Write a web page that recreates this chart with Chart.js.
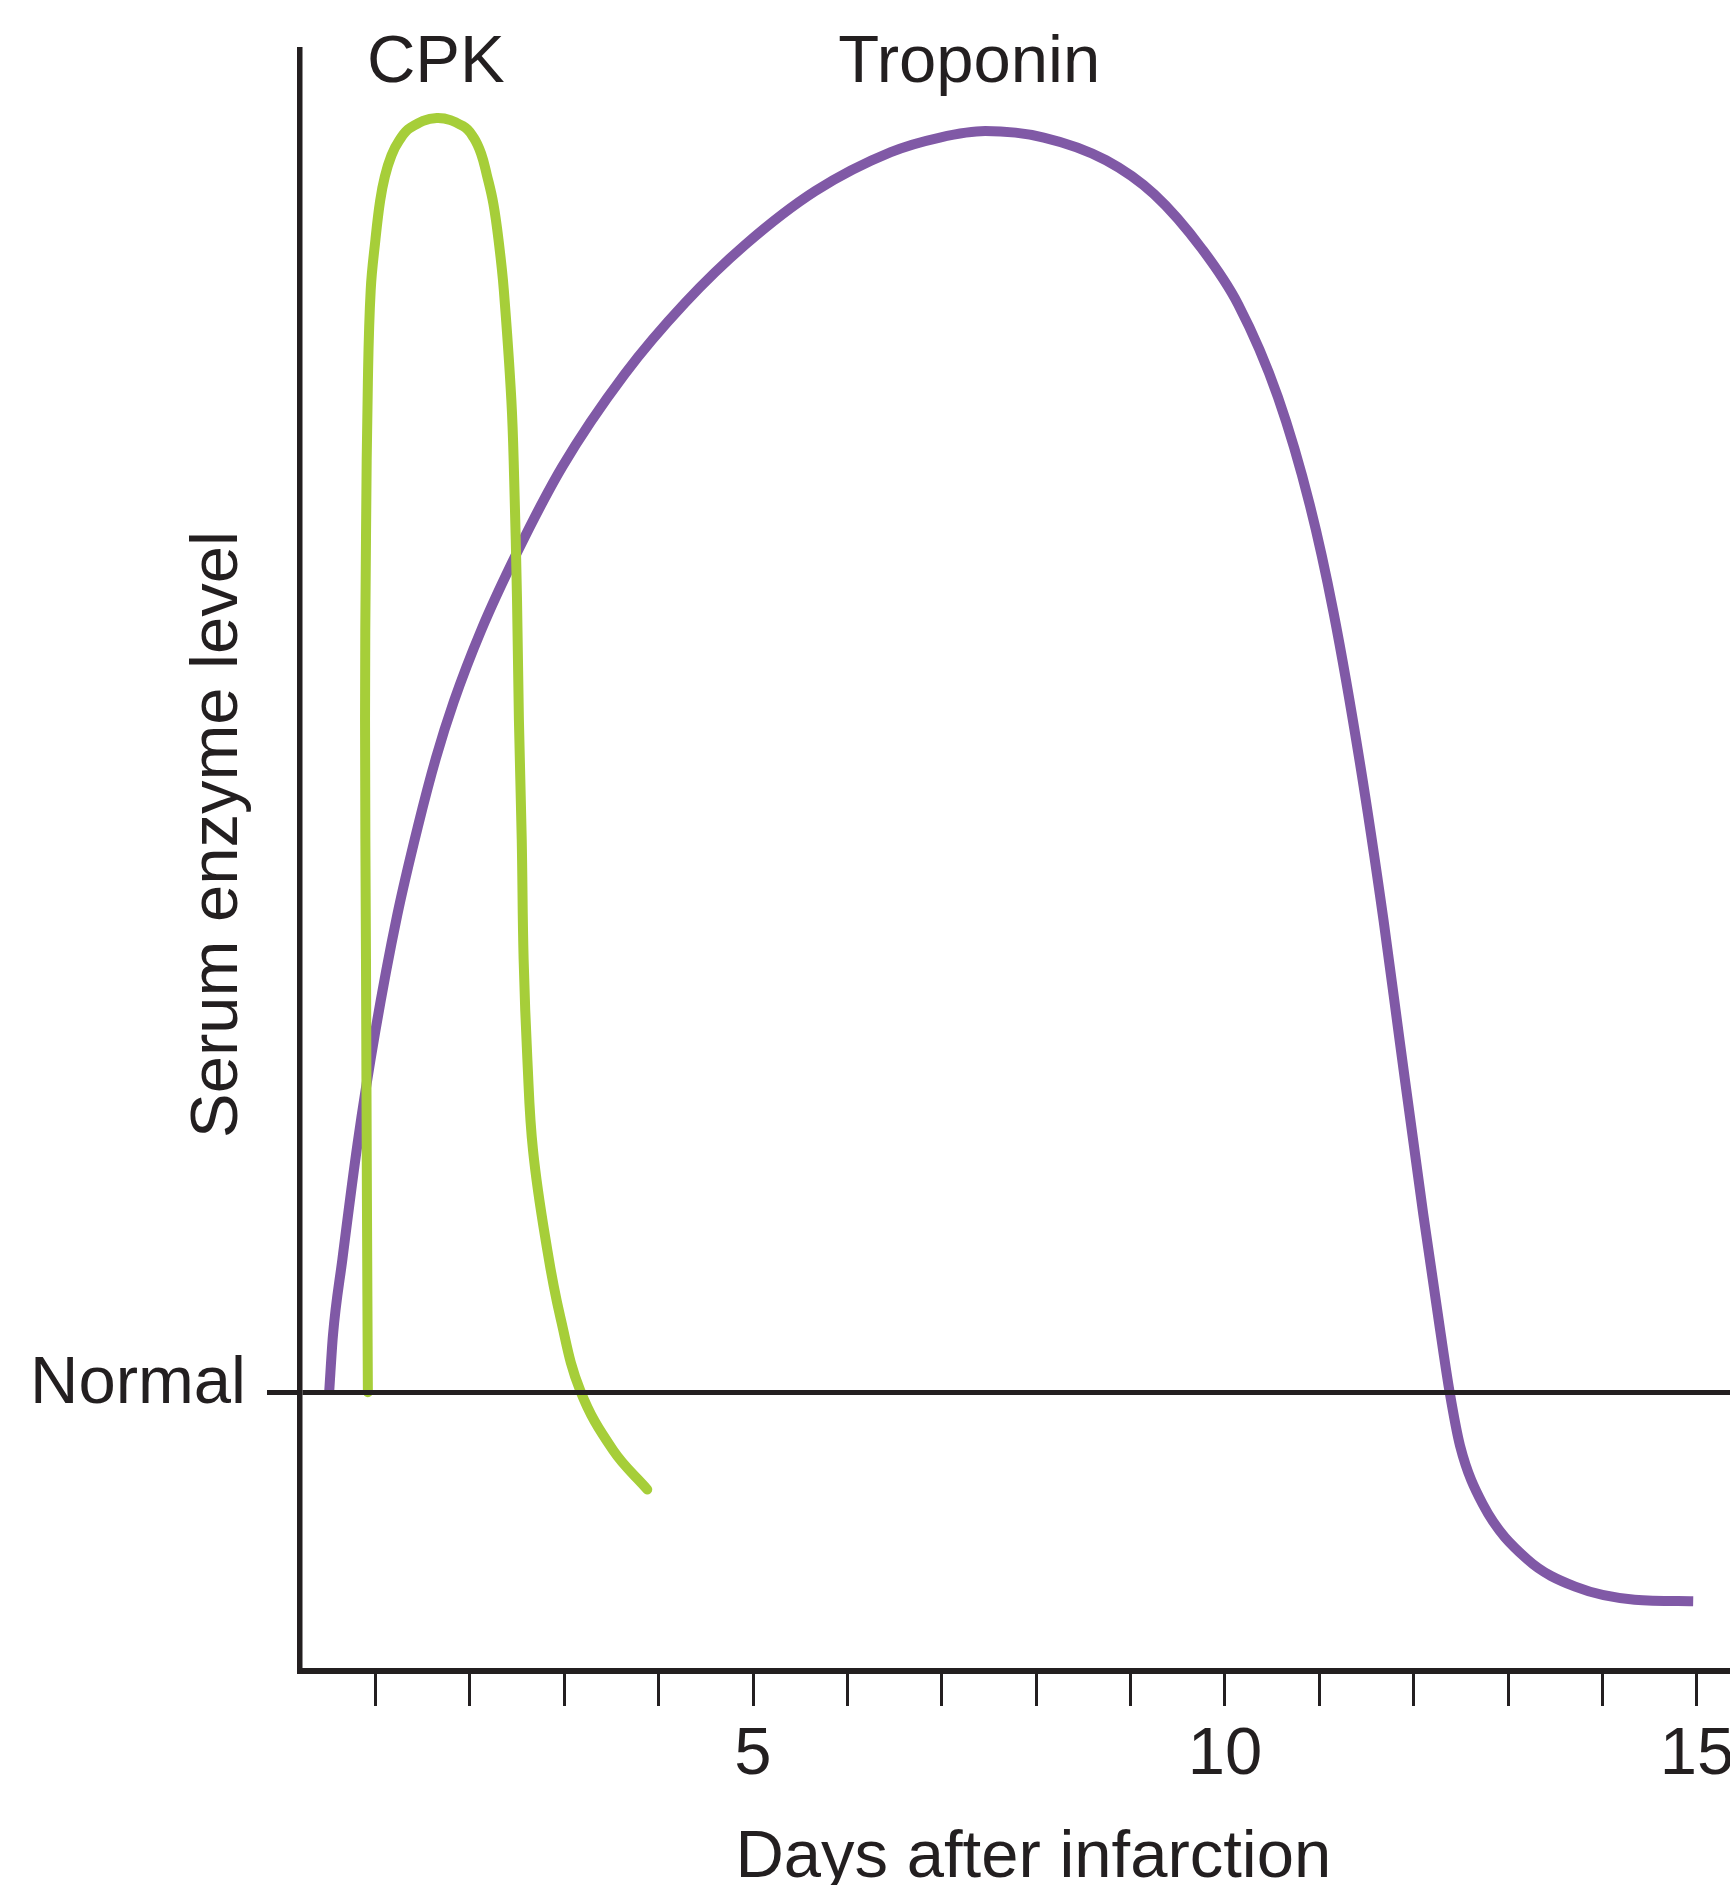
<!DOCTYPE html>
<html>
<head>
<meta charset="utf-8">
<title>Serum enzyme level after infarction</title>
<script src="https://cdn.jsdelivr.net/npm/chart.js@4.4.1/dist/chart.umd.min.js"></script>
<style>
  html, body { margin: 0; padding: 0; background: #ffffff; }
  #wrap { width: 1730px; height: 1885px; position: relative; }
</style>
</head>
<body>
<div id="wrap"><canvas id="enzymeChart"></canvas></div>
<script>
// ==========================================================================
// Data (x = days after infarction, y = relative level)
// ==========================================================================
const normalLevel = 17.2;
const dayTicks = [1, 2, 3, 4, 5, 6, 7, 8, 9, 10, 11, 12, 13, 14, 15];
const labelledDays = [5, 10, 15];

const cpkDays = [0.92, 0.91, 0.90, 0.89, 0.90, 0.92, 0.95, 1.00, 1.05, 1.10,
  1.17, 1.25, 1.37, 1.65, 1.93, 2.04, 2.12, 2.18, 2.25, 2.31,
  2.36, 2.44, 2.47, 2.50, 2.52, 2.55, 2.57, 2.61, 2.67,
  2.82, 2.96, 3.17, 3.52, 3.88];
const cpkLevels = [17.2, 29.1, 43.9, 58.7, 69.8, 79.5, 85.2, 88.3, 90.7, 92.2,
  93.5, 94.4, 95.2, 95.8, 95.3, 94.6, 93.6, 92.3, 90.5, 88.0,
  85.2, 78.4, 73.5, 66.1, 58.7, 51.3, 43.9, 37.7, 32.1,
  26.0, 21.8, 17.3, 13.6, 11.2];

const troponinDays = [0.51, 0.55, 0.65, 0.81, 1.00, 1.23, 1.45, 1.64, 1.83, 2.12,
  2.50, 2.98, 3.64, 4.28, 4.92, 5.66, 6.46, 6.98, 7.46, 8.08,
  8.74, 9.25, 9.76, 10.14, 10.56, 10.90, 11.15, 11.43, 11.68, 11.85,
  12.10, 12.28, 12.38, 12.49, 12.73, 13.20, 13.71, 14.34, 14.96];
const troponinLevels = [17.2, 20.7, 25.4, 32.5, 39.5, 46.6, 52.1, 56.3, 59.8, 64.2,
  69.0, 74.3, 80.0, 84.4, 88.0, 91.3, 93.7, 94.6, 95.0, 94.6,
  93.2, 91.1, 87.7, 84.3, 78.6, 71.9, 65.3, 56.0, 46.3, 38.9,
  28.2, 21.0, 17.2, 13.9, 10.3, 6.9, 5.2, 4.4, 4.3];

const seriesNames = ["CPK", "Troponin"];
const normalLabel = "Normal";
const xTitle = "Days after infarction";
const yTitle = "Serum enzyme level";

// ==========================================================================
// Styling
// ==========================================================================
const ink = "#231f20";
const cpkColor = "#a6ce39";
const troponinColor = "#8059a6";
const fontFamily = "'Liberation Sans', Arial, Helvetica, sans-serif";
const textFont = { family: fontFamily, size: 67 };

const toPoints = (xs, ys) => xs.map((d, i) => ({ x: d, y: ys[i] }));

// free text: series names and axis titles
const enzymeLabels = {
  id: "enzymeLabels",
  afterDraw(chart) {
    const { ctx, scales: { x, y } } = chart;
    ctx.save();
    ctx.fillStyle = ink;
    ctx.font = "67px " + fontFamily;
    ctx.textAlign = "center";
    ctx.textBaseline = "alphabetic";
    ctx.fillText(seriesNames[0], x.getPixelForValue(1.64), 82);
    ctx.fillText(seriesNames[1], x.getPixelForValue(7.29), 82);
    ctx.fillText(xTitle, x.getPixelForValue(7.97), 1877);
    ctx.translate(237, y.getPixelForValue(51.6));
    ctx.rotate(-Math.PI / 2);
    ctx.fillText(yTitle, 0, 0);
    ctx.restore();
  },
};

const ctx = document.getElementById("enzymeChart").getContext("2d");

new Chart(ctx, {
  type: "line",
  data: {
    datasets: [
      {
        // CPK doubles back on itself, so it stays a free bezier path
        label: seriesNames[0],
        data: toPoints(cpkDays, cpkLevels),
        borderColor: cpkColor,
        borderWidth: 10,
        tension: 0.4,
        borderCapStyle: "round",
        borderJoinStyle: "round",
        pointRadius: 0,
        fill: false,
      },
      {
        label: seriesNames[1],
        data: toPoints(troponinDays, troponinLevels),
        borderColor: troponinColor,
        borderWidth: 10,
        cubicInterpolationMode: "monotone",
        borderCapStyle: "butt",
        borderJoinStyle: "round",
        pointRadius: 0,
        fill: false,
      },
    ],
  },
  options: {
    responsive: true,
    maintainAspectRatio: false,
    animation: false,
    layout: { padding: { top: 50, left: 0, right: 0, bottom: 0 } },
    plugins: { legend: { display: false }, tooltip: { enabled: false } },
    scales: {
      x: {
        type: "linear",
        min: 0.201,
        max: 15.35,
        afterBuildTicks: (scale) => {
          scale.ticks = dayTicks.map((v) => ({ value: v }));
        },
        afterFit: (scale) => {
          scale.height = 214;
          scale.paddingLeft = 0;
          scale.paddingRight = 0;
        },
        ticks: {
          callback: (value) => (labelledDays.includes(value) ? String(value) : ""),
          font: textFont,
          color: ink,
          padding: 9,
          autoSkip: false,
          maxRotation: 0,
        },
        grid: {
          drawOnChartArea: false,
          drawTicks: true,
          tickLength: 35,
          lineWidth: 3,
          color: ink,
        },
        border: { display: true, width: 6, color: ink },
      },
      y: {
        type: "linear",
        min: 0,
        max: 100,
        afterBuildTicks: (scale) => {
          scale.ticks = [{ value: normalLevel }];
        },
        afterFit: (scale) => {
          scale.width = 300;
          scale.paddingTop = 0;
          scale.paddingBottom = 0;
        },
        ticks: {
          callback: () => normalLabel,
          font: textFont,
          color: ink,
          padding: 21,
          labelOffset: -8,
          autoSkip: false,
        },
        grid: {
          drawOnChartArea: true,
          drawTicks: true,
          tickLength: 33,
          lineWidth: 5,
          color: ink,
          z: 1,
        },
        border: { display: true, width: 5.5, color: ink, z: 1 },
      },
    },
  },
  plugins: [enzymeLabels],
});
</script>
</body>
</html>
